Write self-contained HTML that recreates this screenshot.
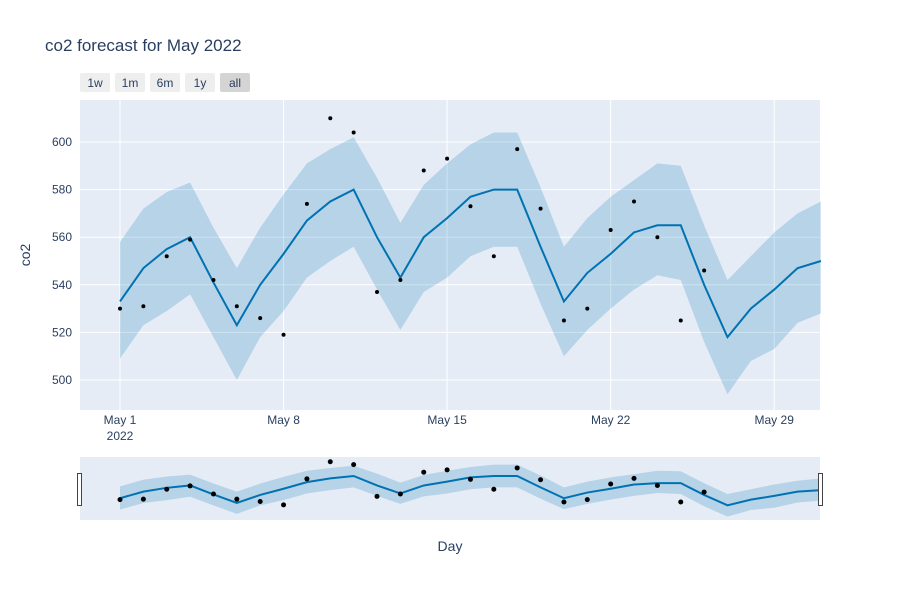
<!DOCTYPE html>
<html><head><meta charset="utf-8"><style>
body{margin:0;background:#fff;font-family:"Liberation Sans",Arial,sans-serif}
svg text{font-family:"Liberation Sans",Arial,sans-serif;fill:#2a3f5f}
</style></head><body>
<svg id="c" width="900" height="600" xmlns="http://www.w3.org/2000/svg">
<text x="45" y="51" font-size="17">co2 forecast for May 2022</text>
<g id="btns"></g>
<rect x="80" y="100" width="740" height="310" fill="#e5ecf6"/>
<g id="grid"></g>
<g id="main"></g>
<rect x="80" y="457" width="740" height="63" fill="#e5ecf6"/>
<g id="mini"></g>
<rect x="77.5" y="473.5" width="4" height="32" fill="#fff" stroke="#444"/>
<rect x="818.5" y="473.5" width="4" height="32" fill="#fff" stroke="#444"/>
<text x="30" y="255" font-size="14" text-anchor="middle" transform="rotate(-90 30 255)">co2</text>
<text x="450" y="551" font-size="14" text-anchor="middle">Day</text>
</svg>
<script>
const actual=[530,531,552,559,542,531,526,519,574,610,604,537,542,588,593,573,552,597,572,525,530,563,575,560,525,546];
const yhat=[533,547,555,560,541,523,540,553,567,575,580,560,543,560,568,577,580,580,556,533,545,553,562,565,565,540,518,530,538,547,550];
const upper=[558,572,579,583,564,547,564,578,591,597,602,585,566,582,591,599,604,604,581,556,568,577,584,591,590,565,542,552,562,570,575];
const lower=[509,523,529,536,518,500,518,529,543,550,556,538,521,537,543,552,556,556,532,510,521,530,538,544,542,516,494,508,513,524,528];
const yTicks=[500,520,540,560,580,600];
const xTickDays=[0,7,14,21,28];
const xTickLabels=["May 1","May 8","May 15","May 22","May 29"];
const buttons=["1w","1m","6m","1y","all"];
const NS="http://www.w3.org/2000/svg";
function mk(t,a,p){const e=document.createElementNS(NS,t);for(const k in a)e.setAttribute(k,a[k]);p.appendChild(e);return e;}
const X=d=>120+d*(700/29.96);
const Y=v=>380-(v-500)*2.38;
const YM=v=>520-(v-487)*62/131;
const btns=document.getElementById('btns');
buttons.forEach((b,i)=>{const x=80+i*35;
 const r=mk('rect',{x:x,y:73,width:30,height:19,rx:2,fill:i==4?'#d4d4d4':'#eeeeee'},btns);
 
 
 const t=mk('text',{x:x+15,y:87,'font-size':12,'text-anchor':'middle'},btns);t.textContent=b;
 
 });
const g=document.getElementById('grid');
yTicks.forEach(v=>{const l=mk('line',{x1:80,x2:820,y1:Y(v),y2:Y(v),stroke:'#fff','stroke-width':1},g);
 
 
 const t=mk('text',{x:72,y:Y(v)+4,'font-size':12,'text-anchor':'end'},g);t.textContent=v;
 
 });
xTickDays.forEach((d,i)=>{const l=mk('line',{x1:X(d),x2:X(d),y1:100,y2:410,stroke:'#fff','stroke-width':1},g);
 
 
 const t=mk('text',{x:X(d),y:424,'font-size':12,'text-anchor':'middle'},g);t.textContent=xTickLabels[i];
 
 
 if(i==0){const t2=mk('text',{x:X(d),y:440,'font-size':12,'text-anchor':'middle'},g);t2.textContent='2022';
 
 }});
function draw(par,Yf,r,lw){
 let top=upper.map((v,i)=>X(i)+','+Yf(v)),bot=lower.map((v,i)=>X(i)+','+Yf(v)).reverse();
 const band=mk('polygon',{points:top.concat(bot).join(' '),fill:'rgba(0,114,178,0.2)'},par);
 
 
 const ln=mk('polyline',{points:yhat.map((v,i)=>X(i)+','+Yf(v)).join(' '),fill:'none',stroke:'#0072b2','stroke-width':lw},par);
 
 
 actual.forEach((v,i)=>{const c=mk('circle',{cx:X(i),cy:Yf(v),r:r,fill:'#000'},par);
  
  });
}
draw(document.getElementById('main'),Y,2,2);
draw(document.getElementById('mini'),YM,2.5,2);
</script>
</body></html>
